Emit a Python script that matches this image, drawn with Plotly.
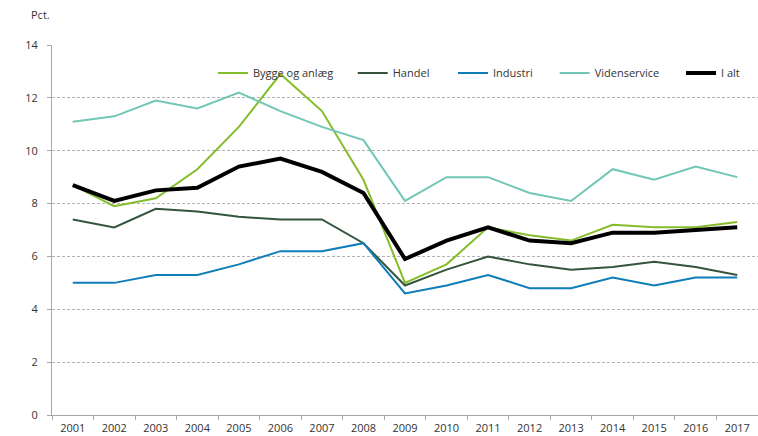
import plotly.graph_objects as go

years = [str(y) for y in range(2001, 2018)]
bygge = [8.7, 7.9, 8.2, 9.3, 10.9, 12.9, 11.5, 8.9, 5.0, 5.7, 7.1, 6.8, 6.6, 7.2, 7.1, 7.1, 7.3]
handel = [7.4, 7.1, 7.8, 7.7, 7.5, 7.4, 7.4, 6.5, 4.9, 5.5, 6.0, 5.7, 5.5, 5.6, 5.8, 5.6, 5.3]
industri = [5.0, 5.0, 5.3, 5.3, 5.7, 6.2, 6.2, 6.5, 4.6, 4.9, 5.3, 4.8, 4.8, 5.2, 4.9, 5.2, 5.2]
videnservice = [11.1, 11.3, 11.9, 11.6, 12.2, 11.5, 10.9, 10.4, 8.1, 9.0, 9.0, 8.4, 8.1, 9.3, 8.9, 9.4, 9.0]
i_alt = [8.7, 8.1, 8.5, 8.6, 9.4, 9.7, 9.2, 8.4, 5.9, 6.6, 7.1, 6.6, 6.5, 6.9, 6.9, 7.0, 7.1]
y_ticks = [0, 2, 4, 6, 8, 10, 12, 14]

series = [
    ("Bygge og anlæg", bygge, "#84bd2a", 2),
    ("Handel", handel, "#34553c", 2),
    ("Industri", industri, "#0f7db8", 2),
    ("Videnservice", videnservice, "#72c6b6", 2),
    ("I alt", i_alt, "#000000", 4),
]
legend_x = [0.228, 0.426, 0.568, 0.712, 0.891]

font = dict(family="Open Sans", size=11, color="#333333")

fig = go.Figure()
layout_legends = {}
for i, (name, vals, color, w) in enumerate(series):
    lname = "legend" if i == 0 else f"legend{i + 1}"
    fig.add_trace(go.Scatter(x=years, y=vals, name=name, mode="lines",
                             line=dict(color=color, width=w), legend=lname))
    layout_legends[lname] = dict(orientation="h", x=legend_x[i], y=0.924,
                                 xanchor="left", yanchor="middle",
                                 bgcolor="rgba(0,0,0,0)", font=font,
                                 itemwidth=30)

fig.update_layout(
    width=758, height=436,
    margin=dict(l=52, r=0, t=45, b=21),
    paper_bgcolor="white", plot_bgcolor="white",
    font=font,
    showlegend=True,
    xaxis=dict(type="category", showgrid=False, showline=True, linecolor="#a6a6a6",
               linewidth=1, ticks="outside", tickson="boundaries", ticklen=4,
               tickcolor="#a6a6a6", range=[-0.5, 16.5], tickfont=font, zeroline=False,
               ticklabelstandoff=3),
    yaxis=dict(range=[0, 14], tickvals=y_ticks, showgrid=True, gridcolor="#b3b3b3",
               griddash="3px,2px", gridwidth=1, showline=True, linecolor="#a6a6a6",
               ticks="outside", ticklen=4, tickcolor="#a6a6a6", zeroline=False,
               tickfont=font, ticklabelstandoff=7),
    annotations=[dict(text="Pct.", xref="paper", yref="paper", x=(29 - 52) / 706,
                      y=(415 - 15) / 370, xanchor="left", yanchor="middle",
                      showarrow=False, font=font)],
    **layout_legends,
)

fig.write_html("out.html", config={"displayModeBar": False},
               post_script="document.body.style.margin='0';document.body.style.padding='0';")
